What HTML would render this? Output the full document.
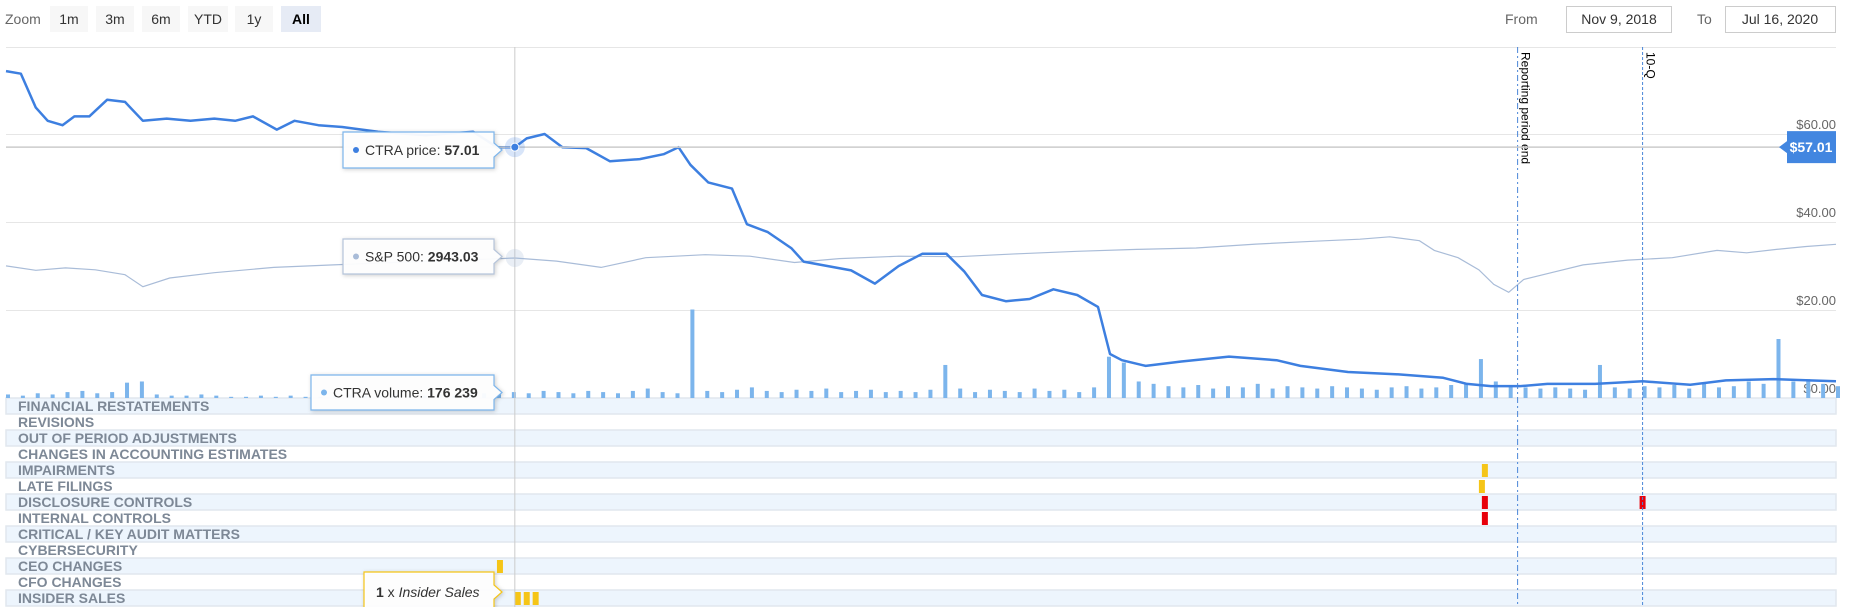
<!DOCTYPE html>
<html><head><meta charset="utf-8"><style>
body{margin:0;background:#fff;font-family:"Liberation Sans",sans-serif;}
svg{display:block}
</style></head><body>
<svg id="c" width="1853" height="607" viewBox="0 0 1853 607" xmlns="http://www.w3.org/2000/svg">
<g font-size="14">
<text x="5" y="24" fill="#666">Zoom</text>
<g><rect x="50" y="6" width="38" height="26" fill="#f7f7f7"/><text x="69" y="24" text-anchor="middle" fill="#333">1m</text></g>
<g><rect x="96" y="6" width="38" height="26" fill="#f7f7f7"/><text x="115" y="24" text-anchor="middle" fill="#333">3m</text></g>
<g><rect x="142" y="6" width="38" height="26" fill="#f7f7f7"/><text x="161" y="24" text-anchor="middle" fill="#333">6m</text></g>
<g><rect x="188" y="6" width="40" height="26" fill="#f7f7f7"/><text x="208" y="24" text-anchor="middle" fill="#333">YTD</text></g>
<g><rect x="235" y="6" width="38" height="26" fill="#f7f7f7"/><text x="254" y="24" text-anchor="middle" fill="#333">1y</text></g>
<g><rect x="281" y="6" width="40" height="26" fill="#e6ebf5"/><text x="301" y="24" text-anchor="middle" fill="#000" font-weight="bold">All</text></g>
<text x="1505" y="24" fill="#666">From</text>
<g><rect x="1566.5" y="6.5" width="105" height="26" fill="#fff" stroke="#ccc"/><text x="1619" y="24" text-anchor="middle" fill="#333">Nov 9, 2018</text></g>
<text x="1697" y="24" fill="#666">To</text>
<g><rect x="1725.5" y="6.5" width="110" height="26" fill="#fff" stroke="#ccc"/><text x="1780" y="24" text-anchor="middle" fill="#333">Jul 16, 2020</text></g>
</g>
<line x1="6" x2="1836" y1="47.5" y2="47.5" stroke="#e6e6e6"/>
<g id="grid"></g>
<g id="lanes"></g>
<g id="vol"></g>
<g id="marks"></g>
<g id="overlay"></g>
</svg>
<script>
const NS="http://www.w3.org/2000/svg";
const priceDays=[0,5,10,14,19,23,28,34,40,46,54,62,70,77,83,91,97,105,113,125,141,157,165,171,175,181,187,195,203,213,221,226,230,236,244,249,256,264,268,276,284,292,300,308,316,322,328,336,344,352,360,367,371,375,383,395,411,427,435,451,467,483,491,499,509,518,534,550,566,578,594,606,615];
const priceValues=[74.3,73.7,66,63,62,64,64,67.8,67.3,63,63.5,63,63.5,63,64,61,63,62,61.6,60.5,59.7,60.5,57,57,59,60,57,56.8,53.8,54.3,55.4,57,53,49,47.6,39.5,37.7,34,31,30,29,26,30,32.8,32.8,28.8,23.4,22,22.5,24.7,23.4,20.7,10,8.6,7.3,8.3,9.4,8.6,7.3,5.9,5.4,4.6,3.2,2.7,2.7,3.2,3.2,3.8,3.0,4.0,4.3,4.0,3.8];
const spxDays=[0,10,20,30,40,46,55,70,90,110,130,150,171,185,200,215,235,250,265,280,300,320,340,360,380,400,420,440,455,465,475,480,488,495,500,505,510,520,530,545,560,575,585,595,605,615];
const spxValues=[2781,2690,2740,2700,2600,2351,2530,2640,2750,2800,2850,2890,2943,2880,2750,2950,3010,2980,2850,2930,2980,2970,3030,3080,3120,3150,3230,3290,3330,3380,3300,3100,2950,2700,2400,2237,2500,2650,2800,2900,2950,3100,3050,3120,3180,3226];
const volStep=5;
const volumeValues=[3,2,4,3,5,6,4,5,13,14,3,2,2,3,2,1,1,2,1,2,1,1,2,3,2,2,3,2,2,3,2,3,4,3,5,4,6,5,4,6,5,4,6,8,5,4,75,6,5,7,9,6,5,7,6,8,5,6,7,5,6,5,7,28,8,5,7,6,5,8,6,7,5,9,35,30,14,12,10,9,11,8,10,9,12,8,10,9,8,10,9,8,7,9,10,8,9,11,12,33,14,10,9,8,9,8,7,28,9,8,10,9,11,8,12,9,10,14,12,50,14,16,12,10];
const yTicks=[0,20,40,60];
const lanes=["FINANCIAL RESTATEMENTS","REVISIONS","OUT OF PERIOD ADJUSTMENTS","CHANGES IN ACCOUNTING ESTIMATES","IMPAIRMENTS","LATE FILINGS","DISCLOSURE CONTROLS","INTERNAL CONTROLS","CRITICAL / KEY AUDIT MATTERS","CYBERSECURITY","CEO CHANGES","CFO CHANGES","INSIDER SALES","MERGERS & ACQUISITIONS"];
const eventLane=[4,5,6,7,6,10,12,12,12];
const eventDay=[497,496,497,497,550,166,172,175,178];
const eventColor=["#f5c518","#f5c518","#e8000b","#e8000b","#e8000b","#f5c518","#f5c518","#f5c518","#f5c518"];
const flagDays=[508,550];
const flagLabels=["Reporting period end","10-Q"];
const hoverDay=171, hoverPrice=57.01, hoverSpx=2943.03;

const X0=6,X1=1836,TOTAL=615;
const x=d=>X0+d/TOTAL*(X1-X0);
const y=v=>398-v*4.4;
const ys=v=>258-(v-2943)/20.6;
function el(t,a,p){const e=document.createElementNS(NS,t);for(const k in a)e.setAttribute(k,a[k]);(p||document.getElementById('c')).appendChild(e);return e;}
const grid=document.getElementById('grid');
yTicks.forEach(t=>{
 const l=el('line',{x1:X0,x2:X1,y1:y(t)+0.5,y2:y(t)+0.5,stroke:t===0?'#ccd6eb':'#e6e6e6'},grid);
 
 
 const tx=el('text',{x:X1,y:y(t)-5,'text-anchor':'end','font-size':13,fill:'#666'},grid);
 tx.textContent='$'+t.toFixed(2);
 
 
});
const lg=document.getElementById('lanes');
lanes.forEach((n,i)=>{
 const top=398+i*16;
 if(i%2===0){const r=el('rect',{x:X0,y:top,width:X1-X0,height:16,fill:'#edf5fd',stroke:'#e1e7ee','stroke-width':1.5},lg);
 
 }
 const t=el('text',{x:18,y:top+13,'font-size':14,'font-weight':'bold',fill:'#7d8896'},lg);
 t.textContent=n;
 
 
});
const vg=document.getElementById('vol');
volumeValues.forEach((v,i)=>{
 const h=v*1.18;const r=el('rect',{x:x(i*volStep),y:398-h,width:4,height:h,fill:'#7cb5ec'},vg);
 
 
});
const mg=document.getElementById('marks');
const sp=el('path',{d:spxDays.map((d,i)=>(i?'L':'M')+x(d).toFixed(1)+','+ys(spxValues[i]).toFixed(1)).join(''),fill:'none',stroke:'#a9bcd8','stroke-width':1.2},mg);


const pp=el('path',{d:priceDays.map((d,i)=>(i?'L':'M')+x(d).toFixed(1)+','+y(priceValues[i]).toFixed(1)).join(''),fill:'none',stroke:'#3d7fe0','stroke-width':2.5,'stroke-linejoin':'round'},mg);


eventDay.forEach((d,i)=>{
 const r=el('rect',{x:x(d)-3,y:398+eventLane[i]*16+2,width:6,height:13,fill:eventColor[i]},mg);
 
 
});
flagDays.forEach((d,i)=>{
 const l=el('line',{x1:x(d),x2:x(d),y1:47,y2:607,stroke:'#4a86d8','stroke-dasharray':i===0?'6,3,2,3':'3,2'},mg);
 
 
 const t=el('text',{x:0,y:0,'font-size':12,fill:'#000',transform:`translate(${x(d)+4},52) rotate(90)`},mg);
 t.textContent=flagLabels[i];
 
 
});
const og=document.getElementById('overlay');
const hx=x(hoverDay);
const ch=el('line',{x1:hx,x2:hx,y1:47,y2:607,stroke:'#ccc'},og);


const chy=el('line',{x1:X0,x2:X1,y1:y(hoverPrice),y2:y(hoverPrice),stroke:'#ccc','stroke-width':1.5},og);


const halo=el('circle',{cx:hx,cy:y(hoverPrice),r:10,fill:'#3d7fe0','fill-opacity':0.2},og);


const dot=el('circle',{cx:hx,cy:y(hoverPrice),r:4,fill:'#3d7fe0',stroke:'#fff'},og);


const sd=el('circle',{cx:hx,cy:ys(hoverSpx),r:9,fill:'#a9bcd8','fill-opacity':0.25},og);


function tip(name,x1,y1,x2,y2,stroke,html,dotc){
 const g=el('g',{},og);
 
 
 const my=(y1+y2)/2;
 el('path',{d:`M${x1},${y1}H${x2}V${my-7}L${x2+8},${my}L${x2},${my+7}V${y2}H${x1}Z`,fill:'#fff','fill-opacity':0.95,stroke:stroke,'stroke-width':1.2,filter:'drop-shadow(1px 1px 2px rgba(0,0,0,0.2))'},g);
 let tx=x1+12;
 if(dotc){el('circle',{cx:x1+13,cy:my,r:3,fill:dotc},g);tx=x1+22;}
 const t=el('text',{x:tx,y:my+5,'font-size':14,fill:'#333'},g);
 t.innerHTML=html;
}
tip('price-tooltip',343,132,494,168,'#7cb5ec','CTRA price: <tspan font-weight="bold">57.01</tspan>','#3d7fe0');
tip('sp500-tooltip',343,239,494,274,'#b5c4da','S&amp;P 500: <tspan font-weight="bold">2943.03</tspan>','#a9bcd8');
tip('volume-tooltip',311,375,494,410,'#7cb5ec','CTRA volume: <tspan font-weight="bold">176 239</tspan>','#7cb5ec');
tip('insider-sales-tooltip',364,572,494,612,'#f5c518','<tspan font-weight="bold">1</tspan> x <tspan font-style="italic">Insider Sales</tspan>',null);
const pl=el('g',{},og);


el('path',{d:`M1787,${y(hoverPrice)-16}H1836V${y(hoverPrice)+16}H1787V${y(hoverPrice)+6}L1779,${y(hoverPrice)}L1787,${y(hoverPrice)-6}Z`,fill:'#4286e0'},pl);
const plt=el('text',{x:1811,y:y(hoverPrice)+5,'text-anchor':'middle','font-size':14,'font-weight':'bold',fill:'#fff'},pl);
plt.textContent='$57.01';
</script>
</body></html>
